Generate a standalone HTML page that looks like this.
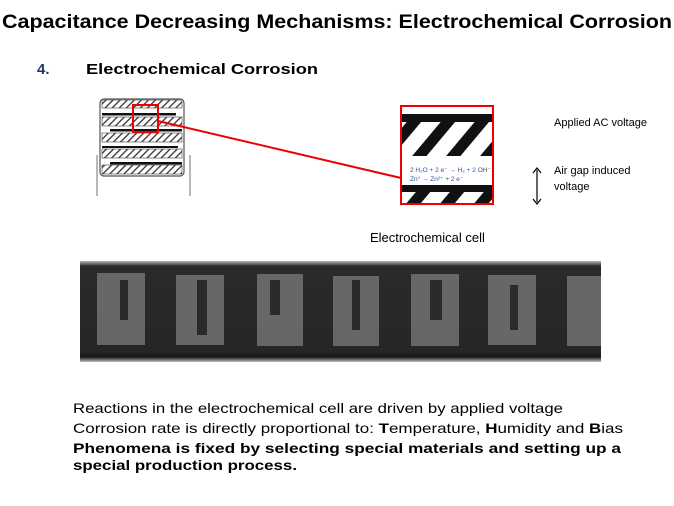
<!DOCTYPE html>
<html><head><style>
html,body{margin:0;padding:0;background:#fff;}
svg{display:block;}
</style></head><body>
<svg width="674" height="506" viewBox="0 0 674 506" xmlns="http://www.w3.org/2000/svg" font-family="Liberation Sans, sans-serif">
<defs>
<pattern id="h" width="5" height="5" patternUnits="userSpaceOnUse" patternTransform="rotate(45)">
<rect width="5" height="5" fill="#fff"/><rect width="1.3" height="5" fill="#333"/></pattern>
<pattern id="bh" width="26" height="26" patternUnits="userSpaceOnUse" patternTransform="rotate(40)">
<rect width="26" height="26" fill="#fff"/><rect width="11" height="26" fill="#111"/></pattern>
<linearGradient id="bg" x1="0" y1="0" x2="0" y2="1">
<stop offset="0" stop-color="#b8b8b8"/><stop offset="0.05" stop-color="#2a2a2a"/><stop offset="0.9" stop-color="#262626"/><stop offset="0.95" stop-color="#151515"/><stop offset="1" stop-color="#c0c0c0"/></linearGradient>
</defs>
<text x="2" y="28" font-size="19" font-weight="bold" textLength="670" lengthAdjust="spacingAndGlyphs">Capacitance Decreasing Mechanisms: Electrochemical Corrosion</text>
<text x="37" y="74" font-size="15" font-weight="bold" fill="#1f3864">4.</text>
<text x="86" y="74" font-size="15" font-weight="bold" textLength="232" lengthAdjust="spacingAndGlyphs">Electrochemical  Corrosion</text>

<!-- capacitor -->
<line x1="97" y1="155" x2="97" y2="196" stroke="#888" stroke-width="1.2"/>
<line x1="190" y1="155" x2="190" y2="196" stroke="#888" stroke-width="1.2"/>
<rect x="100" y="99" width="84" height="77" rx="4" fill="#fff" stroke="#555" stroke-width="1.2"/>
<rect x="102" y="100" width="80" height="8" fill="url(#h)" stroke="#444" stroke-width="0.6"/>
<rect x="102" y="113" width="74" height="2.5" fill="#111"/>
<rect x="102" y="117" width="80" height="9" fill="url(#h)" stroke="#444" stroke-width="0.6"/>
<rect x="110" y="129" width="72" height="2.5" fill="#111"/>
<rect x="102" y="133" width="80" height="9" fill="url(#h)" stroke="#444" stroke-width="0.6"/>
<rect x="102" y="146" width="76" height="2" fill="#111"/>
<rect x="102" y="149" width="80" height="9" fill="url(#h)" stroke="#444" stroke-width="0.6"/>
<rect x="110" y="162" width="72" height="2.5" fill="#111"/>
<rect x="102" y="165" width="80" height="9" fill="url(#h)" stroke="#444" stroke-width="0.6"/>
<rect x="133" y="105" width="25" height="27" fill="none" stroke="#e00" stroke-width="2"/>
<line x1="158" y1="121" x2="401" y2="178" stroke="#e00" stroke-width="2"/>

<!-- zoom box -->
<rect x="401" y="106" width="92" height="98" fill="#fff"/>
<rect x="401" y="118" width="92" height="38" fill="url(#bh)"/>
<rect x="401" y="114" width="92" height="8" fill="#111"/>
<rect x="401" y="185" width="92" height="19" fill="url(#bh)"/>
<rect x="401" y="185" width="92" height="7" fill="#111"/>
<text x="410" y="172" font-size="6.5" fill="#2f5597">2 H₂O  +  2 e⁻ →  H₂  + 2 OH⁻</text>
<text x="410" y="181" font-size="6.5" fill="#2f5597">Zn° →   Zn²⁺  +  2 e⁻</text>
<rect x="401" y="106" width="92" height="98" fill="none" stroke="#e00" stroke-width="2"/>
<line x1="492" y1="170" x2="492" y2="202" stroke="#000" stroke-width="1.2" transform="translate(45,0)"/>
<path d="M533,173 L537,168 L541,173 M533,199 L537,204 L541,199" fill="none" stroke="#000" stroke-width="1.2"/>
<text x="554" y="126" font-size="11">Applied AC voltage</text>
<text x="554" y="174" font-size="11">Air gap induced</text>
<text x="554" y="190" font-size="11">voltage</text>
<text x="370" y="242" font-size="13">Electrochemical  cell</text>

<!-- photo -->
<rect x="80" y="261" width="521" height="101" fill="url(#bg)"/>
<g fill="#6e6e6e" opacity="0.9">
<rect x="97" y="273" width="48" height="72"/>
<rect x="176" y="275" width="48" height="70"/>
<rect x="257" y="274" width="46" height="72"/>
<rect x="333" y="276" width="46" height="70"/>
<rect x="411" y="274" width="48" height="72"/>
<rect x="488" y="275" width="48" height="70"/>
<rect x="567" y="276" width="34" height="70"/>
</g>
<g fill="#2a2a2a">
<rect x="120" y="280" width="8" height="40"/>
<rect x="197" y="280" width="10" height="55"/>
<rect x="270" y="280" width="10" height="35"/>
<rect x="352" y="280" width="8" height="50"/>
<rect x="430" y="280" width="12" height="40"/>
<rect x="510" y="285" width="8" height="45"/>
</g>

<text x="73" y="413" font-size="14" textLength="490" lengthAdjust="spacingAndGlyphs">Reactions in  the electrochemical cell are driven by applied  voltage</text>
<text x="73" y="433" font-size="14" textLength="550" lengthAdjust="spacingAndGlyphs">Corrosion rate is directly proportional to: <tspan font-weight="bold">T</tspan>emperature, <tspan font-weight="bold">H</tspan>umidity and <tspan font-weight="bold">B</tspan>ias</text>
<text x="73" y="453" font-size="14" font-weight="bold" textLength="548" lengthAdjust="spacingAndGlyphs">Phenomena is fixed by selecting special materials and setting up a</text>
<text x="73" y="470" font-size="14" font-weight="bold" textLength="224" lengthAdjust="spacingAndGlyphs">special production process.</text>
</svg>
</body></html>
